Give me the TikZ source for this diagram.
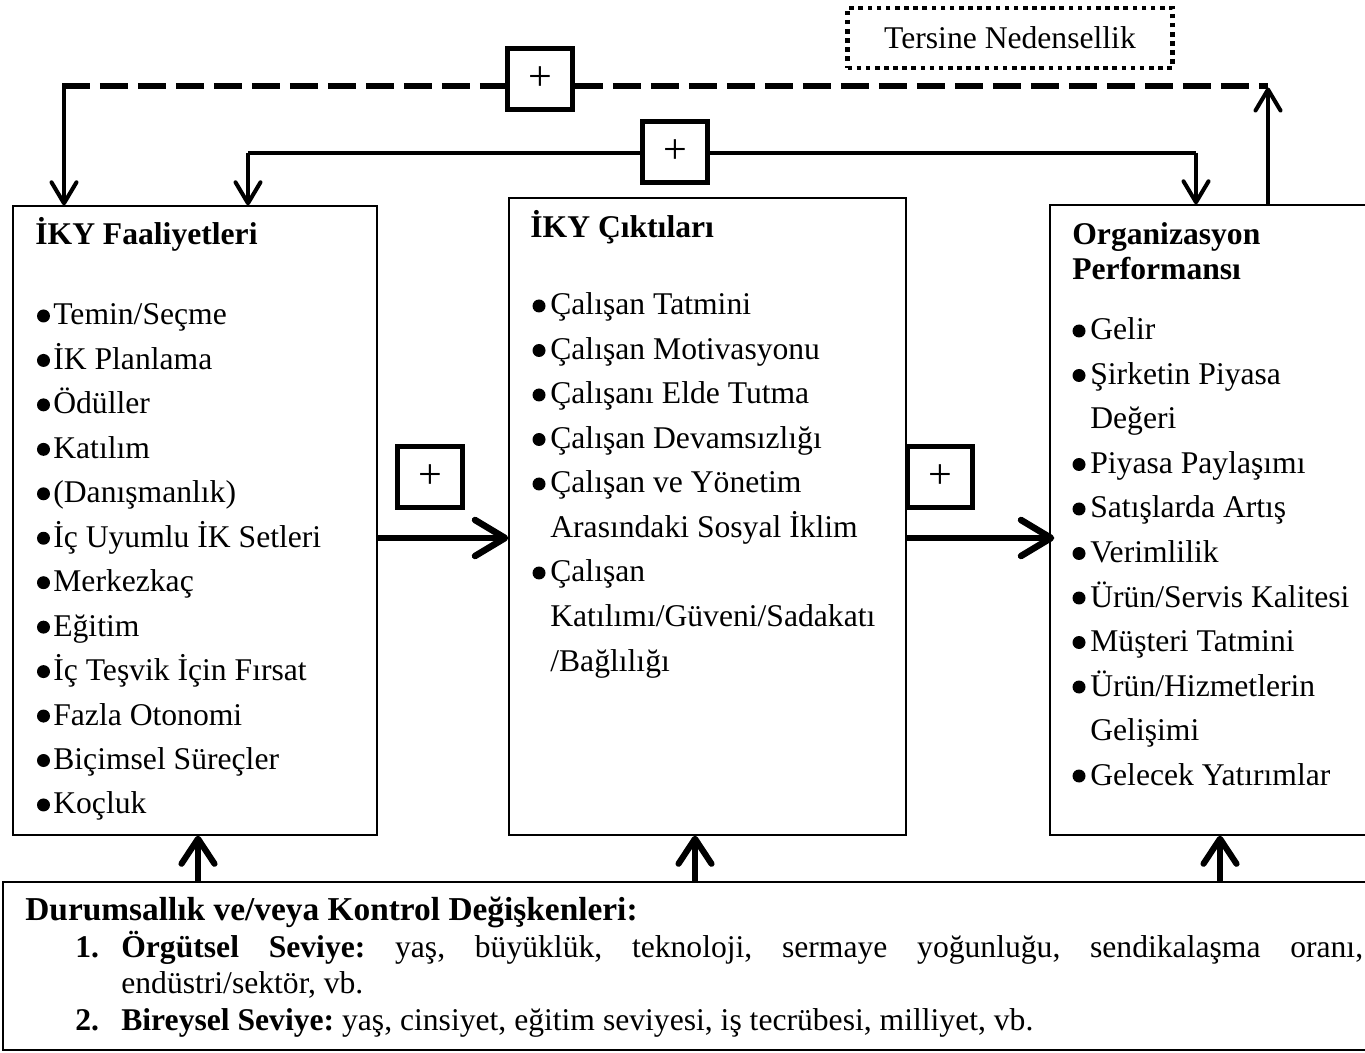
\documentclass[tikz,border=0pt]{standalone}
\usepackage{fontspec}
\setmainfont{Liberation Serif}
\usetikzlibrary{arrows.meta}
\frenchspacing

\tikzset{
  panel/.style={draw, line width=0.85pt, inner sep=0pt},
  plusbox/.style={draw, line width=2.8pt, fill=white, inner sep=0pt,
    minimum width=1.3cm, minimum height=1.22cm, font=\fontsize{24}{24}\selectfont},
  notebox/.style={draw, line width=2.6pt, dash pattern=on 2.6pt off 2.6pt,
    inner sep=0pt, minimum width=6.5cm, minimum height=1.2cm,
    font=\fontsize{18}{22}\selectfont},
  txt/.style={anchor=base west, inner sep=0pt, font=\fontsize{18}{22}\selectfont},
  head/.style={txt, font=\fontsize{18}{22}\selectfont\bfseries},
  dotmark/.style={fill=black},
  fbline/.style={line width=2.3pt},
  fbarrow/.style={line width=2.3pt, -{Straight Barb[length=0.42cm,width=0.5cm,round]}},
  dashline/.style={line width=3.6pt, dash pattern=on 0.56cm off 0.2cm},
  bigarrow/.style={line width=3.7pt, -{Straight Barb[length=0.6cm,width=0.72cm,round]}},
  uparrow/.style={line width=3.5pt, -{Straight Barb[length=0.5cm,width=0.66cm,round]}},
}

\begin{document}
\begin{tikzpicture}[x=0.02cm,y=-0.02cm]
\useasboundingbox (0,0) rectangle (1365,1053);
\fill[white] (0,0) rectangle (1365,1053);
\clip (0,0) rectangle (1365,1053);

% the three main panels and the control-variable panel
\node[panel, minimum width=7.28cm, minimum height=12.58cm] (act)  at (195,520.5) {};
\node[panel, minimum width=7.94cm, minimum height=12.74cm] (out)  at (707.5,516.5) {};
\node[panel, minimum width=6.8cm,  minimum height=12.6cm]  (perf) at (1220,520) {};
\node[panel, minimum width=27.6cm, minimum height=3.36cm]  (ctrl) at (693,966) {};

% positive-effect markers
\node[plusbox] (p1) at (540,79) {+};
\node[plusbox] (p2) at (675,152) {+};
\node[plusbox] (p3) at (430,477) {+};
\node[plusbox] (p4) at (940,477) {+};
\node[notebox] (rev) at (1010,38) {Tersine Nedensellik};

% reverse causality: dashed loop from performance back to activities
\coordinate (dl) at (62,86);
\coordinate (dr) at (1268,86);
\draw[dashline] (dl) -- (dl -| p1.west);
\draw[dashline] (dr -| p1.east) -- (dr);
\draw[fbarrow] ([xshift=0.04cm]dl) -- ([xshift=0.04cm]dl |- act.north);
\draw[fbarrow] (dr |- perf.north) -- ([yshift=-0.03cm]dr);

% feedback between activities and performance
\coordinate (fl) at (248,153);
\coordinate (fr) at (1196,153);
\draw[fbline] (p2.west |- fl) -- (fl);
\draw[fbarrow] (fl) -- (fl |- act.north);
\draw[fbline] (p2.east |- fr) -- (fr);
\draw[fbarrow] (fr) -- (fr |- perf.north);

% main causal chain
\coordinate (m1) at (377,538);
\coordinate (m2) at (906,538);
\draw[bigarrow] (m1 -| act.east) -- (m1 -| out.west);
\draw[bigarrow] (m2 -| out.east) -- ([xshift=0.1cm]m2 -| perf.west);

% control variables acting on every panel
\coordinate (u1) at (198,835);
\coordinate (u2) at (695,835);
\coordinate (u3) at (1220,835);
\draw[uparrow] (u1 |- ctrl.north) -- (u1 |- act.south);
\draw[uparrow] (u2 |- ctrl.north) -- (u2 |- out.south);
\draw[uparrow] (u3 |- ctrl.north) -- (u3 |- perf.south);

% HR activities
\node[head] (ah) at (35,245) {İKY Faaliyetleri};
\foreach \t [count=\k from 0] in {Temin/Seçme, İK Planlama, Ödüller, Katılım,
    (Danışmanlık), İç Uyumlu İK Setleri, Merkezkaç, Eğitim, İç Teşvik İçin Fırsat,
    Fazla Otonomi, Biçimsel Süreçler, Koçluk}{
  \node[txt] (a\k) at (53,325+44.45*\k) {\t};
  \fill[dotmark] (43.5,316+44.45*\k) circle (0.13cm);
}

% HR outcomes
\node[head] (bh) at (530,238) {İKY Çıktıları};
\foreach \t [count=\k from 0] in {Çalışan Tatmini, Çalışan Motivasyonu,
    Çalışanı Elde Tutma, Çalışan Devamsızlığı, Çalışan ve Yönetim,
    Arasındaki Sosyal İklim, Çalışan, Katılımı/Güveni/Sadakatı, /Bağlılığı}{
  \node[txt] (b\k) at (550,315+44.5*\k) {\t};
}
\foreach \k in {0,1,2,3,4,6}{
  \fill[dotmark] (539,306+44.5*\k) circle (0.13cm);
}

% organisational performance
\node[head] (ch1) at (1072,245) {Organizasyon};
\node[head] (ch2) at (1072,280) {Performansı};
\foreach \t [count=\k from 0] in {Gelir, Şirketin Piyasa, Değeri,
    Piyasa Paylaşımı, Satışlarda Artış, Verimlilik, Ürün/Servis Kalitesi,
    Müşteri Tatmini, Ürün/Hizmetlerin, Gelişimi, Gelecek Yatırımlar}{
  \node[txt] (c\k) at (1090,340+44.5*\k) {\t};
}
\foreach \k in {0,1,3,4,5,6,7,8,10}{
  \fill[dotmark] (1079,331+44.5*\k) circle (0.13cm);
}

% contingency and control variables
\node[head, font=\fontsize{19}{22}\selectfont\bfseries] (dh) at (25,920) {Durumsallık ve/veya Kontrol Değişkenleri:};
\node[head] (d1n) at (75,957) {1.};
\node[txt]  (d1)  at (121,957) {\makebox[24.84cm][s]{\textbf{Örgütsel Seviye:} yaş, büyüklük, teknoloji, sermaye yoğunluğu, sendikalaşma oranı,}};
\node[txt]  (d1b) at (121,993) {endüstri/sektör, vb.};
\node[head] (d2n) at (75,1030) {2.};
\node[txt]  (d2)  at (121,1030) {\textbf{Bireysel Seviye:} yaş, cinsiyet, eğitim seviyesi, iş tecrübesi, milliyet, vb.};
\end{tikzpicture}
\end{document}
